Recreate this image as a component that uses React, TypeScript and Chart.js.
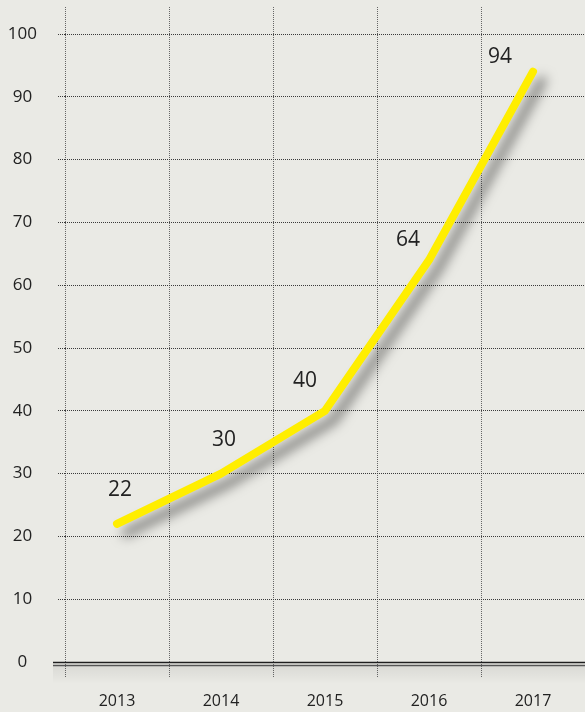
import React, { useEffect, useRef } from "react";
import { Chart, registerables } from "chart.js";

Chart.register(...registerables);

const YEARS = ["2013", "2014", "2015", "2016", "2017"];
const VALUES = [22, 30, 40, 64, 94];
const Y_TICK_STEP = 10;

const FONT = "'Open Sans', 'Noto Sans', sans-serif";
const BG = "#eaeae5";

// label offsets relative to each point (style only)
const LABEL_DX = [3, 3, -20, -21, -33];
const LABEL_DY = [-34, -34, -30, -20, -15];

const bgPlugin = {
  id: "bg",
  beforeDraw(chart: any) {
    const { ctx, width, height } = chart;
    ctx.save();
    ctx.fillStyle = BG;
    ctx.fillRect(0, 0, width, height);
    ctx.restore();
  },
};

const zeroLinePlugin = {
  id: "zeroLine",
  beforeDatasetsDraw(chart: any) {
    const { ctx, chartArea } = chart;
    const y0 = Math.round(chart.scales.y.getPixelForValue(0));
    ctx.save();
    const g = ctx.createLinearGradient(0, y0 + 4, 0, y0 + 22);
    g.addColorStop(0, "rgba(0,0,0,0.07)");
    g.addColorStop(1, "rgba(0,0,0,0)");
    ctx.fillStyle = g;
    ctx.fillRect(chartArea.left - 12, y0 + 4, chartArea.right - chartArea.left + 12, 18);
    ctx.beginPath();
    ctx.lineWidth = 1.6;
    ctx.strokeStyle = "#1e1e1e";
    ctx.moveTo(chartArea.left - 12, y0 + 0.5);
    ctx.lineTo(chartArea.right, y0 + 0.5);
    ctx.stroke();
    ctx.beginPath();
    ctx.strokeStyle = "#555";
    ctx.lineWidth = 1.6;
    ctx.moveTo(chartArea.left - 12, y0 + 3.5);
    ctx.lineTo(chartArea.right, y0 + 3.5);
    ctx.stroke();
    ctx.restore();
  },
};

const shadowPlugin = {
  id: "lineShadow",
  beforeDatasetDraw(chart: any) {
    const ctx = chart.ctx;
    ctx.save();
    ctx.shadowColor = "rgba(0,0,0,0.5)";
    ctx.shadowBlur = 12;
    ctx.shadowOffsetX = 9;
    ctx.shadowOffsetY = 9;
  },
  afterDatasetDraw(chart: any) {
    chart.ctx.restore();
  },
};

const labelPlugin = {
  id: "valueLabels",
  afterDatasetsDraw(chart: any) {
    const { ctx } = chart;
    const meta = chart.getDatasetMeta(0);
    ctx.save();
    ctx.font = `21px ${FONT}`;
    ctx.fillStyle = "#222";
    ctx.textAlign = "center";
    ctx.textBaseline = "middle";
    meta.data.forEach((pt: any, i: number) => {
      ctx.fillText(String(VALUES[i]), pt.x + LABEL_DX[i], pt.y + LABEL_DY[i]);
    });
    ctx.restore();
  },
};

export default function App() {
  const ref = useRef<HTMLCanvasElement | null>(null);

  useEffect(() => {
    document.body.style.margin = "0";
    document.body.style.background = BG;
    const canvas = ref.current!;
    const chart = new Chart(canvas, {
      type: "line",
      data: {
        labels: YEARS,
        datasets: [
          {
            data: VALUES,
            borderColor: "#ffee00",
            borderWidth: 8,
            borderCapStyle: "round",
            borderJoinStyle: "round",
            pointRadius: 0,
            tension: 0,
            fill: false,
          },
        ],
      },
      options: {
        animation: false,
        responsive: false,
        maintainAspectRatio: false,
        devicePixelRatio: 1,
        layout: { padding: { top: 7, right: 0, left: 0, bottom: 0 } },
        plugins: {
          legend: { display: false },
          tooltip: { enabled: false },
        },
        scales: {
          x: {
            offset: true,
            afterFit(scale: any) {
              scale.height = 50;
            },
            grid: {
              offset: true,
              color: "#666",
              lineWidth: 1,
              tickLength: 16,
              tickColor: "#666",
              tickBorderDash: [1, 1],
            },
            border: { display: false, dash: [1, 1] },
            ticks: {
              color: "#222",
              font: { family: FONT, size: 16 },
              padding: 14,
              maxRotation: 0,
            },
          },
          y: {
            min: 0,
            max: 104.3,
            afterBuildTicks(scale: any) {
              scale.ticks = scale.ticks.filter(
                (t: any) => Math.abs(t.value % Y_TICK_STEP) < 1e-6
              );
            },
            afterFit(scale: any) {
              scale.width = 65;
              scale.paddingTop = 0;
              scale.paddingBottom = 0;
            },
            grid: {
              color: (c: any) => (c.tick && c.tick.value === 0 ? "rgba(0,0,0,0)" : "#3a3a3a"),
              tickColor: (c: any) => (c.tick && c.tick.value === 0 ? "rgba(0,0,0,0)" : "#3a3a3a"),
              lineWidth: 1,
              tickLength: 7,
              tickBorderDash: [1, 1],
            },
            border: { display: false, dash: [1, 1] },
            ticks: {
              stepSize: Y_TICK_STEP,
              color: "#222",
              crossAlign: "center",
              padding: 21,
              font: { family: FONT, size: 17 },
            },
          },
        },
      },
      plugins: [bgPlugin, zeroLinePlugin, shadowPlugin, labelPlugin],
    } as any);
    return () => chart.destroy();
  }, []);

  return (
    <div style={{ width: 585, height: 712 }}>
      <canvas ref={ref} width={585} height={712} style={{ display: "block" }} />
    </div>
  );
}
